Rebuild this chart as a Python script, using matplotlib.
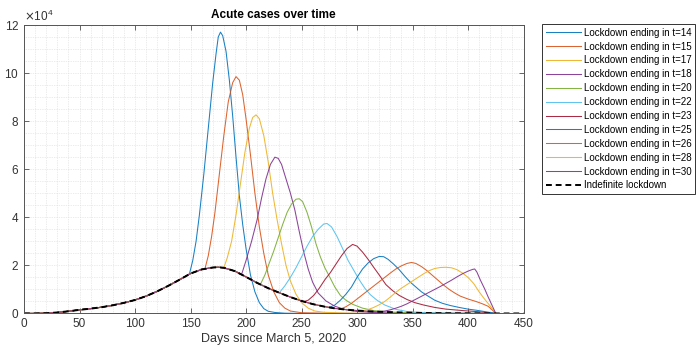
import numpy as np
import matplotlib
matplotlib.use("Agg")
import matplotlib.pyplot as plt
from matplotlib.ticker import MultipleLocator, ScalarFormatter

plt.rcParams['font.family'] = ['Liberation Sans', 'DejaVu Sans']

# ---------------- data (values in units of 10^4 cases) ----------------
base_days = [0, 10, 20, 30, 40, 50, 60, 70, 80, 90, 100, 110, 120, 130, 140, 150, 160, 170, 175,
             180, 190, 200, 210, 220, 230, 240, 250, 260, 270, 280, 290, 300, 310, 320, 340, 360,
             380, 400, 425, 450]
base_vals = [0, 0, 0.01, 0.04, 0.09, 0.15, 0.2, 0.26, 0.34, 0.44, 0.56, 0.72, 0.92, 1.15, 1.40,
             1.66, 1.83, 1.91, 1.92, 1.90, 1.76, 1.52, 1.27, 1.05, 0.86, 0.68, 0.52, 0.39, 0.29,
             0.21, 0.16, 0.12, 0.09, 0.07, 0.04, 0.02, 0.01, 0.005, 0, 0]

labels = ["Lockdown ending in t=14", "Lockdown ending in t=15", "Lockdown ending in t=17",
          "Lockdown ending in t=18", "Lockdown ending in t=20", "Lockdown ending in t=22",
          "Lockdown ending in t=23", "Lockdown ending in t=25", "Lockdown ending in t=26",
          "Lockdown ending in t=28", "Lockdown ending in t=30"]
base_label = "Indefinite lockdown"

# scenario branches (day, value) after leaving the indefinite-lockdown curve
s14 = [[149, 1.64], [152, 2.2], [155, 3.0], [158, 4.1], [162, 5.8], [166, 7.7], [170, 9.6],
       [173, 10.8], [175, 11.5], [177, 11.7], [179, 11.55], [182, 10.9], [185, 9.7], [188, 8.2],
       [191, 6.5], [194, 4.9], [197, 3.7], [200, 2.7], [204, 1.6], [208, 0.9], [212, 0.45],
       [216, 0.2], [220, 0.09], [226, 0.04], [235, 0.01], [250, 0.0], [425, 0.0]]
s15 = [[163, 1.86], [166, 2.4], [169, 3.2], [172, 4.2], [176, 5.8], [180, 7.4], [184, 8.8],
       [188, 9.6], [191, 9.85], [194, 9.7], [197, 9.1], [200, 8.1], [204, 6.6], [208, 5.0],
       [212, 3.6], [216, 2.5], [220, 1.6], [225, 0.9], [230, 0.45], [235, 0.22], [240, 0.1],
       [250, 0.03], [270, 0.01], [300, 0.0], [425, 0.0]]
s17 = [[180, 1.90], [183, 2.3], [187, 3.0], [191, 4.1], [195, 5.4], [199, 6.7], [203, 7.7],
       [206, 8.15], [209, 8.26], [212, 8.1], [216, 7.4], [220, 6.3], [224, 5.0], [228, 3.9],
       [232, 2.9], [236, 2.0], [240, 1.35], [245, 0.8], [250, 0.45], [256, 0.22], [262, 0.1],
       [270, 0.05], [290, 0.01], [320, 0.0], [425, 0.0]]
s18 = [[196, 1.62], [200, 2.2], [205, 3.0], [210, 3.9], [214, 4.8], [218, 5.6], [222, 6.2],
       [226, 6.5], [229, 6.45], [232, 6.2], [236, 5.6], [240, 5.0], [244, 4.3], [248, 3.4],
       [252, 2.55], [256, 1.85], [260, 1.3], [265, 0.85], [272, 0.52], [280, 0.3], [290, 0.15],
       [300, 0.08], [320, 0.03], [350, 0.01], [425, 0.0]]
s20 = [[213, 1.21], [217, 1.6], [221, 2.1], [225, 2.6], [229, 3.15], [233, 3.7], [237, 4.2],
       [241, 4.55], [245, 4.75], [248, 4.77], [251, 4.65], [255, 4.2], [259, 3.6], [263, 2.9],
       [267, 2.35], [271, 1.9], [275, 1.55], [280, 1.1], [285, 0.75], [290, 0.55], [296, 0.38],
       [305, 0.22], [315, 0.12], [330, 0.06], [350, 0.02], [380, 0.005], [425, 0.0]]
s22 = [[230, 0.86], [235, 1.15], [240, 1.5], [245, 1.9], [250, 2.35], [255, 2.8], [260, 3.2],
       [265, 3.5], [270, 3.72], [273, 3.74], [277, 3.6], [282, 3.2], [287, 2.7], [292, 2.2],
       [297, 1.8], [302, 1.4], [307, 1.05], [312, 0.78], [318, 0.55], [325, 0.35], [335, 0.17],
       [345, 0.08], [360, 0.03], [380, 0.01], [425, 0.0]]
s23 = [[252, 0.49], [256, 0.55], [261, 0.75], [266, 1.05], [271, 1.4], [276, 1.7], [281, 2.05],
       [286, 2.4], [291, 2.7], [296, 2.87], [300, 2.8], [305, 2.55], [310, 2.25], [315, 1.92],
       [320, 1.6], [326, 1.2], [332, 0.95], [338, 0.75], [345, 0.58], [352, 0.45], [360, 0.35],
       [370, 0.25], [380, 0.18], [395, 0.12], [410, 0.07], [425, 0.0]]
s25 = [[275, 0.25], [280, 0.35], [285, 0.55], [290, 0.8], [295, 1.1], [300, 1.5], [305, 1.85],
       [310, 2.1], [315, 2.28], [320, 2.37], [324, 2.36], [328, 2.25], [333, 2.05], [338, 1.82],
       [343, 1.55], [348, 1.3], [353, 1.1], [358, 0.9], [363, 0.75], [370, 0.55], [377, 0.42],
       [384, 0.33], [392, 0.25], [400, 0.18], [408, 0.13], [416, 0.07], [425, 0.0]]
s26 = [[285, 0.18], [290, 0.28], [295, 0.42], [300, 0.6], [305, 0.78], [310, 0.96], [315, 1.14],
       [320, 1.32], [325, 1.5], [330, 1.68], [335, 1.85], [340, 1.98], [345, 2.08], [349, 2.12],
       [353, 2.08], [358, 1.95], [363, 1.78], [368, 1.58], [373, 1.38], [378, 1.18], [383, 1.0],
       [388, 0.85], [393, 0.72], [400, 0.6], [407, 0.5], [413, 0.4], [418, 0.3], [421, 0.18],
       [425, 0.0]]
s28 = [[305, 0.11], [310, 0.16], [315, 0.25], [320, 0.36], [325, 0.5], [330, 0.68], [335, 0.88],
       [340, 1.05], [345, 1.2], [350, 1.35], [355, 1.5], [360, 1.65], [365, 1.78], [370, 1.87],
       [375, 1.91], [380, 1.92], [385, 1.9], [390, 1.82], [395, 1.68], [400, 1.5], [405, 1.25],
       [410, 0.9], [414, 0.65], [418, 0.42], [421, 0.25], [425, 0.0]]
s30 = [[320, 0.07], [325, 0.1], [330, 0.15], [335, 0.22], [340, 0.3], [345, 0.4], [350, 0.52],
       [355, 0.64], [360, 0.76], [365, 0.88], [370, 1.0], [375, 1.12], [380, 1.25], [385, 1.38],
       [390, 1.52], [395, 1.65], [400, 1.76], [404, 1.83], [406, 1.85], [408, 1.72], [411, 1.4],
       [415, 1.02], [418, 0.7], [421, 0.4], [423, 0.2], [425, 0.0]]
scenarios = [s14, s15, s17, s18, s20, s22, s23, s25, s26, s28, s30]

colors = ["#0072BD", "#D95319", "#EDB120", "#7E2F8E", "#77AC30", "#4DBEEE", "#A2142F",
          "#0072BD", "#D95319", "#EDB120", "#7E2F8E"]

# ---------------- plotting ----------------
fig = plt.figure(figsize=(6.96, 3.51), dpi=100)
ax = fig.add_axes([0.0345, 0.107, 0.7177, 0.822])

for sc, col, lab in zip(scenarios, colors, labels):
    b = sc[0][0]
    d = [x for x in base_days if x < b] + [p[0] for p in sc]
    v = [y for x, y in zip(base_days, base_vals) if x < b] + [p[1] for p in sc]
    ax.plot(d, np.array(v) * 1e4, color=col, lw=0.75, alpha=0.9, label=lab)

ax.plot(base_days, np.array(base_vals) * 1e4, color='black', lw=1.4,
        linestyle=(0, (3, 2)), label=base_label)

ax.set_xlim(0, 450)
ax.set_ylim(0, 12e4)
ax.xaxis.set_major_locator(MultipleLocator(50))
ax.xaxis.set_minor_locator(MultipleLocator(10))
ax.yaxis.set_major_locator(MultipleLocator(2e4))
ax.yaxis.set_minor_locator(MultipleLocator(0.5e4))
fmt = ScalarFormatter(useMathText=True)
fmt.set_powerlimits((4, 4))
ax.yaxis.set_major_formatter(fmt)
ax.yaxis.get_offset_text().set_fontsize(8.5)
ax.yaxis.get_offset_text().set_color('#4d4d4d')

ax.grid(True, which='both', color='#d9d9d9', lw=0.5, linestyle=(0, (1, 1.5)))
ax.set_axisbelow(True)
ax.tick_params(which='major', direction='in', top=True, right=True, length=3.5,
               width=0.6, colors='#4d4d4d', labelsize=8.5, labelcolor='#333333')
ax.tick_params(which='minor', length=0, top=True, right=True)
for s in ax.spines.values():
    s.set_color('#555555')
    s.set_linewidth(0.7)

ax.set_title("Acute cases over time", fontsize=8.5, fontweight='bold', pad=5)
ax.set_xlabel("Days since March 5, 2020", fontsize=9, color='#333333', labelpad=2)

leg = fig.legend(loc='upper left', bbox_to_anchor=(0.779, 0.931), fontsize=7.0,
                 frameon=True, fancybox=False, framealpha=1, edgecolor='#333333',
                 handlelength=3.6, handletextpad=0.35, labelspacing=0.40,
                 borderpad=0.35, borderaxespad=0)
leg.get_frame().set_linewidth(0.7)

fig.savefig("out.png", dpi=100)
